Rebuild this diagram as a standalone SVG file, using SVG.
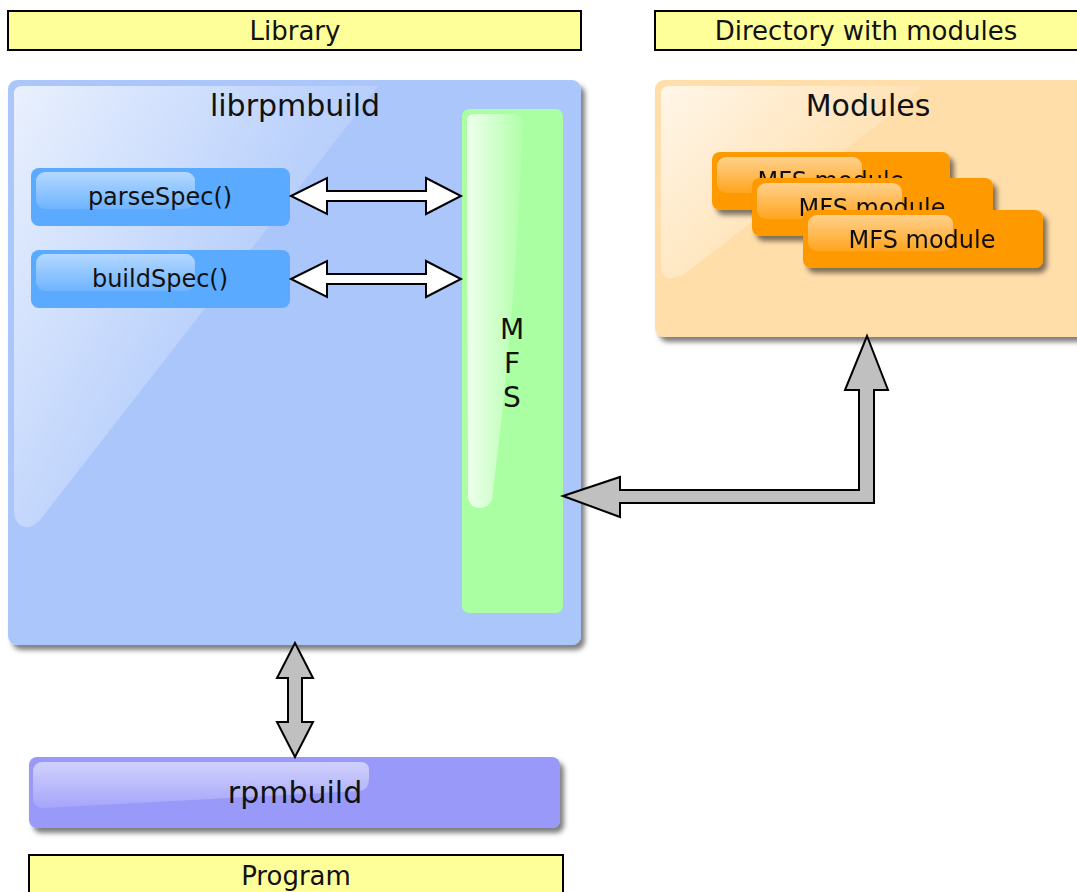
<svg xmlns="http://www.w3.org/2000/svg" width="1077" height="892" viewBox="0 0 1077 892">
  <defs>
    <style>
      text { font-family: "DejaVu Sans", "Liberation Sans", sans-serif; fill: #111; text-anchor: middle; }
      .banner { fill: #ffff99; stroke: #000; stroke-width: 2; }
      .t26 { font-size: 26px; }
      .t30 { font-size: 30px; }
      .t24 { font-size: 24px; }
      .t28 { font-size: 28px; }
      .white-arrow { fill: #fff; stroke: #000; stroke-width: 2; stroke-linejoin: miter; }
      .gray-arrow { fill: #c0c0c0; stroke: #000; stroke-width: 2; stroke-linejoin: miter; }
    </style>
    <filter id="shadow" x="-10%" y="-10%" width="130%" height="130%">
      <feDropShadow dx="4" dy="5" stdDeviation="2.5" flood-color="#000" flood-opacity="0.5"/>
    </filter>
    <linearGradient id="glossBig" x1="0" y1="0" x2="1" y2="0.7">
      <stop offset="0" stop-color="#fff" stop-opacity="0.75"/>
      <stop offset="0.6" stop-color="#fff" stop-opacity="0.2"/>
      <stop offset="1" stop-color="#fff" stop-opacity="0.05"/>
    </linearGradient>
    <linearGradient id="glossBar" x1="0" y1="0" x2="1" y2="0">
      <stop offset="0" stop-color="#fff" stop-opacity="0.8"/>
      <stop offset="1" stop-color="#fff" stop-opacity="0.1"/>
    </linearGradient>
    <linearGradient id="glossPill" x1="0" y1="0" x2="0" y2="1">
      <stop offset="0" stop-color="#fff" stop-opacity="0.55"/>
      <stop offset="1" stop-color="#fff" stop-opacity="0.12"/>
    </linearGradient>
  </defs>

  <rect width="1077" height="892" fill="#fff"/>

  <!-- section banners -->
  <g id="banner-library">
    <rect class="banner" x="8" y="11" width="573" height="39"/>
    <text class="t26" x="295" y="40">Library</text>
  </g>
  <g id="banner-directory">
    <rect class="banner" x="655" y="11" width="430" height="39"/>
    <text class="t26" x="866" y="40">Directory with modules</text>
  </g>
  <g id="banner-program">
    <rect class="banner" x="29" y="855" width="534" height="45"/>
    <text class="t26" x="296" y="885">Program</text>
  </g>

  <!-- library container -->
  <g id="librpmbuild">
    <rect x="8" y="80" width="573" height="565" rx="9" fill="#aac6fb" filter="url(#shadow)"/>
    <path d="M22,86 L378,86 Q360,110 340,135 L40,520 Q30,530 22,526 Q14,522 14,510 L14,94 Q14,86 22,86 Z" fill="url(#glossBig)"/>
    <text class="t30" x="295" y="116">librpmbuild</text>
  </g>

  <g id="parseSpec">
    <rect x="31" y="168" width="259" height="58" rx="8" fill="#5aaaff"/>
    <rect x="36" y="172" width="159" height="37" rx="9" fill="url(#glossPill)"/>
    <text class="t24" x="160" y="205">parseSpec()</text>
  </g>

  <g id="buildSpec">
    <rect x="31" y="250" width="259" height="58" rx="8" fill="#5aaaff"/>
    <rect x="36" y="254" width="159" height="37" rx="9" fill="url(#glossPill)"/>
    <text class="t24" x="160" y="287">buildSpec()</text>
  </g>

  <g id="mfs">
    <rect x="462" y="109" width="101" height="504" rx="7" fill="#aaffa2"/>
    <path d="M474,114 L514,114 Q522,114 522,122 L522,140 Q515,320 492,500 Q488,508 480,508 Q470,508 468,498 L467,121 Q467,114 474,114 Z" fill="url(#glossBar)"/>
    <text class="t28" x="512" y="339">M</text>
    <text class="t28" x="512" y="373">F</text>
    <text class="t28" x="512" y="407">S</text>
  </g>

  <!-- module directory -->
  <g id="modules">
    <rect x="655" y="80" width="430" height="257" rx="9" fill="#ffdeaa" filter="url(#shadow)"/>
    <path d="M669,86 L922,86 Q900,110 870,130 L690,270 Q675,280 668,278 Q661,276 661,266 L661,94 Q661,86 669,86 Z" fill="url(#glossBig)"/>
    <text class="t30" x="868" y="116">Modules</text>
  </g>

  <g id="module-1" filter="url(#shadow)">
    <rect x="712" y="152" width="238" height="58" rx="8" fill="#ff9900"/>
    <rect x="717" y="157" width="145" height="36" rx="9" fill="url(#glossPill)"/>
    <text class="t24" x="831" y="189">MFS module</text>
  </g>
  <g id="module-2" filter="url(#shadow)">
    <rect x="752" y="178" width="241" height="58" rx="8" fill="#ff9900"/>
    <rect x="757" y="183" width="145" height="36" rx="9" fill="url(#glossPill)"/>
    <text class="t24" x="872" y="216">MFS module</text>
  </g>
  <g id="module-3" filter="url(#shadow)">
    <rect x="803" y="210" width="240" height="58" rx="8" fill="#ff9900"/>
    <rect x="808" y="215" width="145" height="36" rx="9" fill="url(#glossPill)"/>
    <text class="t24" x="922" y="248">MFS module</text>
  </g>

  <!-- program -->
  <g id="rpmbuild">
    <rect x="29" y="757" width="531" height="71" rx="8" fill="#9999fa" filter="url(#shadow)"/>
    <path d="M43,762 L360,762 Q369,762 369,770 L369,778 Q369,790 360,791 L45,808 Q33,808 33,798 L33,772 Q33,762 43,762 Z" fill="url(#glossPill)"/>
    <text class="t30" x="295" y="803">rpmbuild</text>
  </g>

  <!-- connectors -->
  <g id="connectors">
    <path class="white-arrow" d="M291,196 L327,178 L327,191 L426,191 L426,178 L461,196 L426,214 L426,201 L327,201 L327,214 Z"/>
    <path class="white-arrow" d="M291,279 L327,261 L327,274 L426,274 L426,261 L461,279 L426,297 L426,284 L327,284 L327,297 Z"/>
    <path class="gray-arrow" d="M563,496 L620,477 L620,490 L859,490 L859,390 L845,390 L867,336 L888,390 L874,390 L874,503 L620,503 L620,517 Z"/>
    <path class="gray-arrow" d="M295,643 L313,678 L302,678 L302,722 L313,722 L295,757 L277,722 L288,722 L288,678 L277,678 Z"/>
  </g>
</svg>
